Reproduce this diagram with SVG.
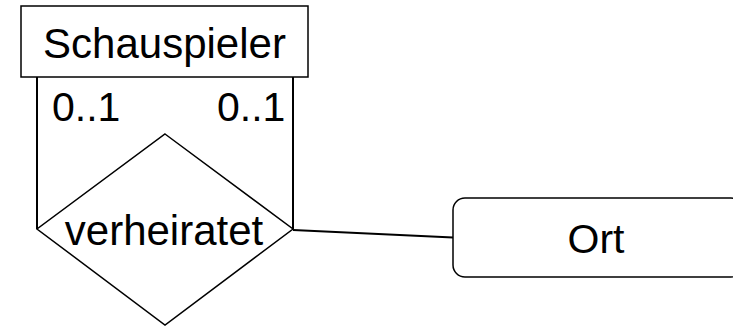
<svg xmlns="http://www.w3.org/2000/svg" width="733" height="327" viewBox="0 0 733 327">
<style>
text{font-family:"Liberation Sans",Arial,sans-serif;font-size:41px;fill:#000}
.big{font-size:42px}
.shape{fill:#fff;stroke:#000;stroke-width:1.5}
.conn{fill:none;stroke:#000;stroke-width:2}
</style>
<rect width="733" height="327" fill="#fff"/>
<g id="connectors">
<line class="conn" x1="37" y1="77" x2="37" y2="229"/>
<line class="conn" x1="293" y1="77" x2="293" y2="229"/>
<line class="conn" x1="293" y1="230" x2="453" y2="237.5" stroke-width="1.5"/>
<text x="52" y="121">0..1</text>
<text x="217" y="121">0..1</text>
</g>
<g id="schauspieler">
<rect class="shape" x="21" y="6" width="287" height="71"/>
<text class="big" x="164.5" y="58" text-anchor="middle">Schauspieler</text>
</g>
<g id="verheiratet">
<polygon class="shape" points="165,134 293,229 165,325 37,229"/>
<text class="big" x="164" y="245" text-anchor="middle">verheiratet</text>
</g>
<g id="ort">
<rect class="shape" x="453" y="198" width="290" height="79" rx="12"/>
<text x="596" y="253" text-anchor="middle">Ort</text>
</g>
</svg>
